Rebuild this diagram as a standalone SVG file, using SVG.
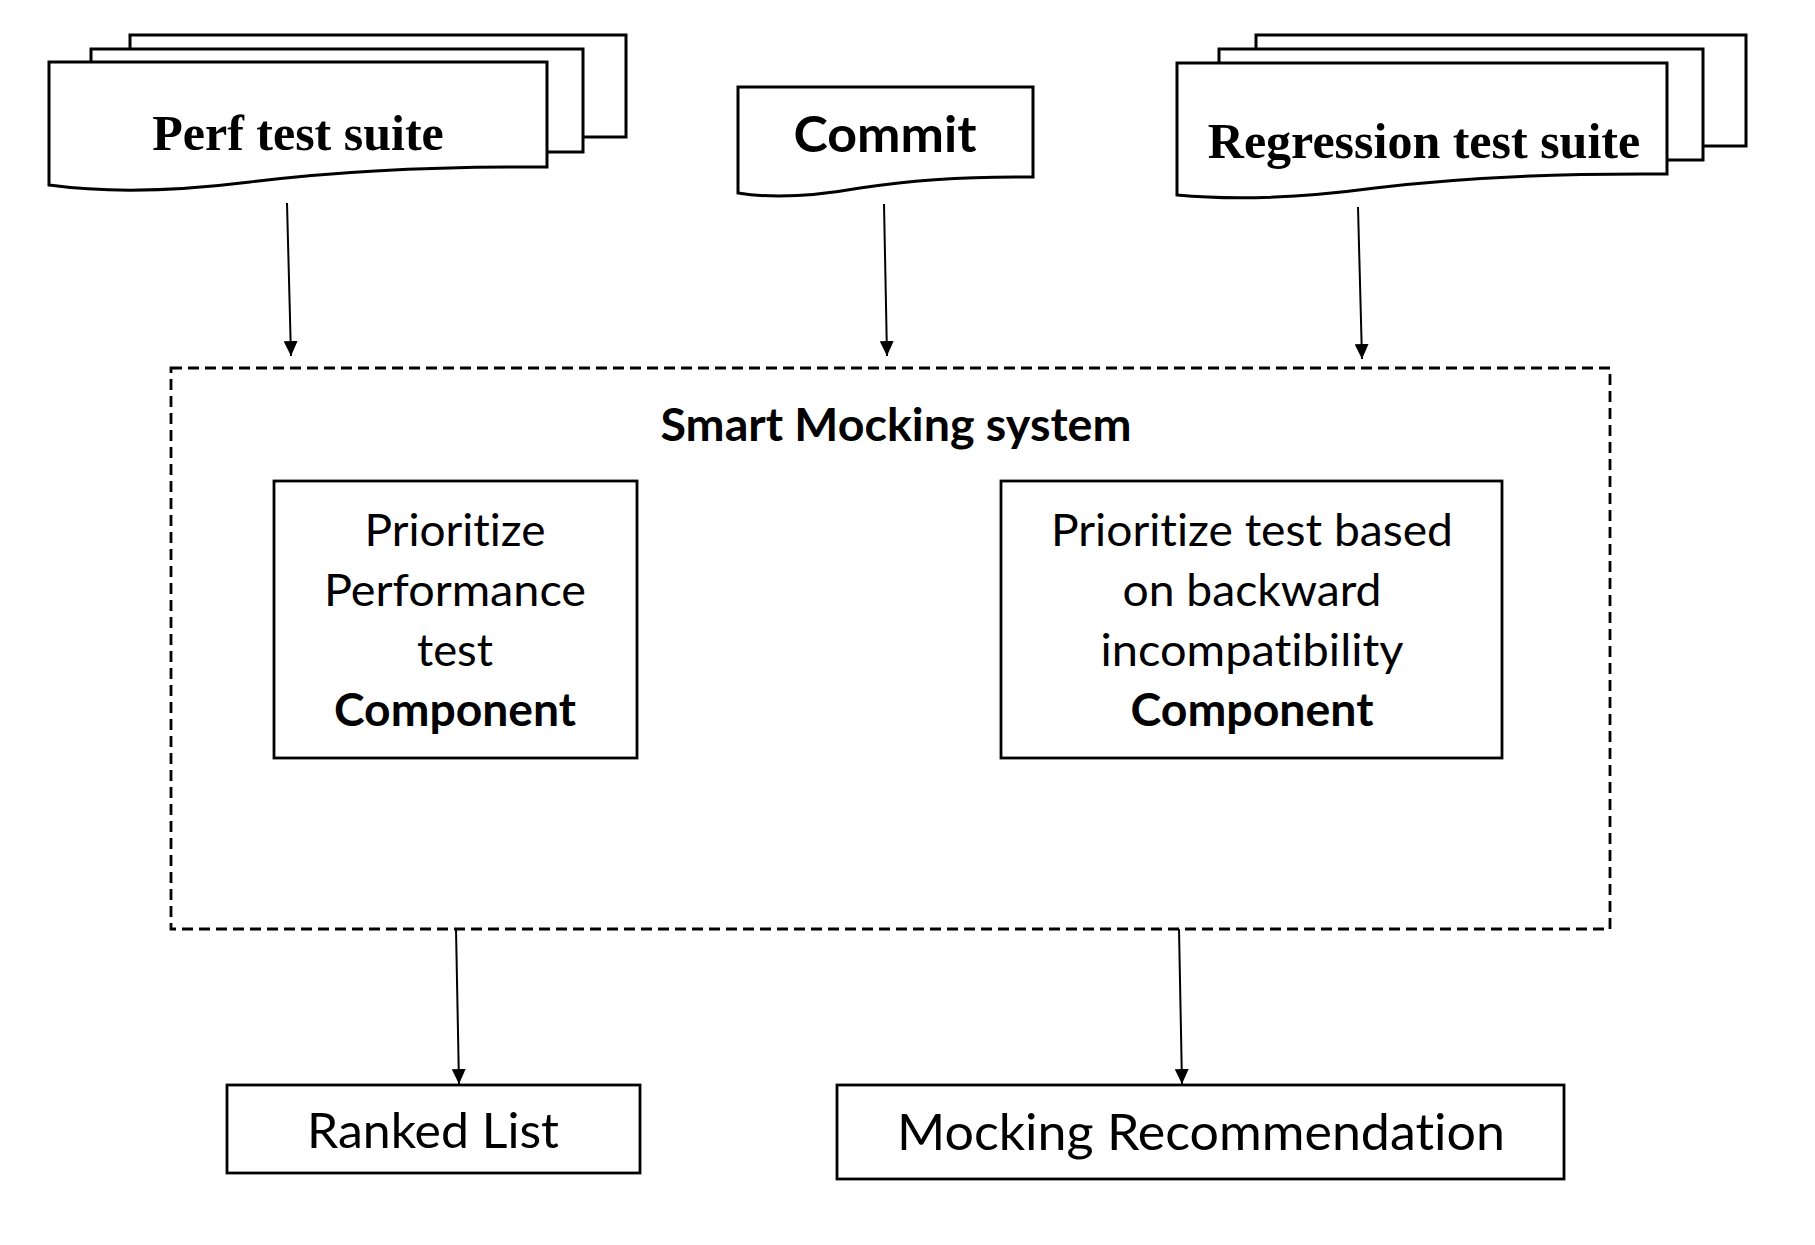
<svg xmlns="http://www.w3.org/2000/svg" width="1815" height="1245" viewBox="0 0 1815 1245">
<style>
.doc{fill:#fff;stroke:#000;stroke-width:3}
.box{fill:#fff;stroke:#000;stroke-width:2.8}
.dash{fill:none;stroke:#000;stroke-width:2.8;stroke-dasharray:11 6}
.serif{font-family:"Liberation Serif","Times New Roman",serif;font-weight:bold;font-size:50px;fill:#000;text-anchor:middle}
.sans{font-family:Lato,"Open Sans","Liberation Sans",sans-serif;fill:#000;text-anchor:middle;font-variant-ligatures:none;font-feature-settings:"liga" 0,"clig" 0}
.b{font-weight:bold}
.conn{stroke:#000;stroke-width:2;fill:none;marker-end:url(#arr)}
</style>
<defs>
<marker id="arr" markerUnits="userSpaceOnUse" markerWidth="16" markerHeight="14" refX="15" refY="7" orient="auto">
<path d="M0,0 L15,7 L0,14 Z" fill="#000"/>
</marker>
</defs>
<rect width="1815" height="1245" fill="#fff"/>

<g id="perf-suite">
<rect class="doc" x="130" y="35" width="496" height="102"/>
<rect class="doc" x="91" y="49" width="492" height="103"/>
<path class="doc" d="M49,62 H547 V167 C420,166 330,172 250,182 C170,192 100,192 49,185 Z"/>
<text class="serif" x="298" y="150">Perf test suite</text>
</g>

<g id="commit">
<path class="doc" d="M738,87 H1033 V177 C958,176 905,181 860,188 C815,196 775,199 738,193 Z"/>
<text class="sans b" x="885" y="152" font-size="49.5" textLength="183" lengthAdjust="spacingAndGlyphs">Commit</text>
</g>

<g id="regression-suite">
<rect class="doc" x="1256" y="35" width="490" height="111"/>
<rect class="doc" x="1219" y="49" width="484" height="111"/>
<path class="doc" d="M1177,63 H1667 V174 C1540,173 1450,179 1375,188 C1300,198 1230,200 1177,195 Z"/>
<text class="serif" x="1424" y="158">Regression test suite</text>
</g>

<g id="smart-mocking-system">
<rect class="dash" x="171" y="368" width="1439" height="561"/>
<text class="sans b" x="896" y="441" font-size="45" textLength="471" lengthAdjust="spacingAndGlyphs">Smart Mocking system</text>
</g>

<g id="perf-component">
<rect class="box" x="274" y="481" width="363" height="277"/>
<text class="sans" x="455" y="546" font-size="45" textLength="181" lengthAdjust="spacingAndGlyphs">Prioritize</text>
<text class="sans" x="455" y="606" font-size="45" textLength="262" lengthAdjust="spacingAndGlyphs">Performance</text>
<text class="sans" x="455" y="666" font-size="45" textLength="76" lengthAdjust="spacingAndGlyphs">test</text>
<text class="sans b" x="455" y="726" font-size="45" textLength="242" lengthAdjust="spacingAndGlyphs">Component</text>
</g>

<g id="backward-component">
<rect class="box" x="1001" y="481" width="501" height="277"/>
<text class="sans" x="1252" y="546" font-size="45" textLength="402" lengthAdjust="spacingAndGlyphs">Prioritize test based</text>
<text class="sans" x="1252" y="606" font-size="45" textLength="259" lengthAdjust="spacingAndGlyphs">on backward</text>
<text class="sans" x="1252" y="666" font-size="45" textLength="303" lengthAdjust="spacingAndGlyphs">incompatibility</text>
<text class="sans b" x="1252" y="726" font-size="45" textLength="243" lengthAdjust="spacingAndGlyphs">Component</text>
</g>

<g id="ranked-list">
<rect class="box" x="227" y="1085" width="413" height="88" stroke-width="3"/>
<text class="sans" x="433" y="1148" font-size="48.5" textLength="252" lengthAdjust="spacingAndGlyphs">Ranked List</text>
</g>

<g id="mocking-recommendation">
<rect class="box" x="837" y="1085" width="727" height="94" stroke-width="3"/>
<text class="sans" x="1201" y="1150" font-size="49.5" textLength="608" lengthAdjust="spacingAndGlyphs">Mocking Recommendation</text>
</g>

<g id="connectors">
<line class="conn" x1="287" y1="203" x2="291" y2="356"/>
<line class="conn" x1="884" y1="204" x2="887" y2="356"/>
<line class="conn" x1="1358" y1="207" x2="1362" y2="359"/>
<line class="conn" x1="456" y1="929" x2="459" y2="1084"/>
<line class="conn" x1="1179" y1="929" x2="1182" y2="1084"/>
</g>
</svg>
